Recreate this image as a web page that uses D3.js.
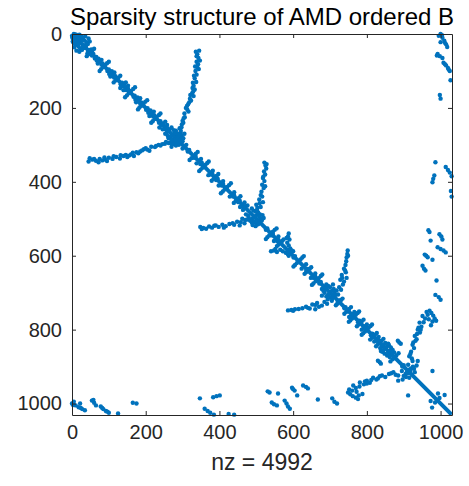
<!DOCTYPE html>
<html>
<head>
<meta charset="utf-8">
<script src="https://cdn.jsdelivr.net/npm/d3@7"></script>
<style>
  body { margin: 0; background: #fff; }
  text { font-family: "Liberation Sans", Arial, Helvetica, sans-serif; }
</style>
</head>
<body>
<div id="chart"></div>
<script>
// matrix size and nonzero count (B is symmetric, so only the lower triangle is listed)
var n = 1031;
var nz = 4992;
var tickValues = [0, 200, 400, 600, 800, 1000];
var diagonal = [[1, 1], [1030, 1030]];

// [row, col] below the diagonal
var cornerBlob = [[5,0],[10,1],[14,4],[8,6],[20,2],[25,5],[18,10],[30,10],[34,18],[40,22],[45,12],[22,15],[48,20],[12,3],[28,16],[36,6]];
var nearDiag = [[6,2],[17,13],[33,30],[47,44],[58,54],[83,80],[118,114],[152,148],[188,185],[223,220],[258,254],
  [318,314],[352,348],[380,377],[410,406],[440,437],[470,466],[530,526],[560,557],[605,601],[660,656],[690,686],
  [742,739],[762,758],[795,791],[830,826],[862,858],[900,896],[66,62],[100,96],[136,132],[170,167],[205,201],
  [240,236],[335,331],[395,391],[455,451],[545,541],[590,586],[640,636],[675,671],[725,721],[780,776],[815,811],[845,841]];
var fishbone1 = [[19,11],[24,6],[38,32],[43,27],[55,45],[60,40],[72,67],[90,84],[95,79],[100,75],[108,101],
  [126,118],[131,113],[141,136],[146,131],[160,154],[166,149],[171,144],[178,172],[194,188],[199,183],[204,179],
  [213,207],[230,224],[236,219],[240,215],[248,242],[253,237],[265,258],[270,253],
  [52,42],[80,70],[115,104],[152,140],[185,174],[222,210],[258,246]];
var blob280 = [[285,275],[290,272],[295,268],[292,280],[298,276],[305,270],[286,270],[282,262],[300,290],[310,300],[288,282],[278,268],[296,285],[302,282],[276,260]];
var arm280 = [[345,45],[340,55],[343,65],[338,75],[340,90],[335,100],[338,110],[333,120],[337,130],[330,140],
  [333,150],[326,160],[330,168],[320,175],[318,185],[312,195],[313,205],[305,215],[306,225],[300,235],
  [298,245],[292,255],[295,262],[287,270],[336,48],[342,82],[331,113],[327,146],[323,180],[316,210],[302,240],
  [338,60],[344,95],[328,132],[321,165],[309,200],[303,228],[347,72],[334,88],[329,155],[315,190],[297,252]];
var fishbone2 = [[336,324],[341,319],[362,354],[367,349],[371,345],[392,384],[397,379],[421,414],[426,409],
  [431,404],[452,444],[457,439],[476,464],[545,535],[550,530],[555,526],[570,560],[574,556],
  [620,610],[625,605],[629,601],[645,635],[649,631],[669,661],[675,655],[679,651],[730,720],[734,716],
  [350,338],[382,370],[410,398],[440,428],[468,456],[560,548],[600,588],[635,623],[660,648],[690,678]];
var blob495 = [[500,490],[505,485],[510,488],[498,480],[512,500],[508,495],[515,505],[520,498],[492,478],[503,470],[488,472],[517,490]];
var arm495 = [[522,348],[525,356],[527,364],[521,372],[524,380],[518,390],[522,398],[516,408],[520,417],
  [514,427],[512,436],[508,448],[518,455],[500,462],[512,468],[502,476],[505,483],[528,352],[519,386],[524,412],[516,440],[509,458]];
var arm590 = [[588,540],[586,548],[590,556],[584,565],[588,572],[592,580],[596,586],[582,552]];
var blob700 = [[705,695],[710,690],[712,700],[718,694],[700,685],[722,705],[695,682],[715,706],[708,678]];
var arm700 = [[748,586],[747,595],[745,605],[744,615],[742,625],[738,635],[743,645],[732,652],[745,660],
  [728,665],[738,670],[735,678],[725,685],[730,692],[749,600],[741,640],[733,660]];
var fishbone3 = [[752,744],[757,739],[770,760],[775,755],[779,751],[786,778],[791,773],[805,795],[810,790],
  [814,786],[822,814],[827,809],[840,830],[845,825],[880,870],[886,864],[766,752],[800,786],[832,820],[874,862]];
var blob850 = [[855,845],[860,842],[865,848],[858,838],[870,855],[884,830],[888,835],[892,838],[850,836],[866,858]];
var blob912 = [[916,908],[920,905],[925,900],[918,912],[930,915],[924,885],[938,885],[935,897],[912,895],[928,906]];
var arm912 = [[970,749],[975,755],[965,760],[951,763],[984,770],[978,778],[943,781],[974,788],[948,792],
  [938,800],[944,808],[930,817],[935,826],[924,841],[928,850],[920,860],[915,872],[958,770],[940,795],[932,830],
  [962,752],[980,762],[954,780],[968,772],[946,800],[936,812],[926,835],[918,866],[922,878],[988,776]];
var farRows = [[1000,0],[995,5],[1005,10],[1010,18],[1000,22],[1015,28],[1018,35],[992,54],[998,60],
  [1005,65],[1008,78],[1015,85],[1020,92],[1025,100],[1027,125],[998,165],[1000,175],[1004,3],[1012,24],[990,58],
  [986,347],[983,383],[980,392],[978,401],[1014,360],[1020,368],[1025,375],[1030,385],[1028,425],[1030,440],
  [967,531],[973,559],[997,542],[1005,556],[992,577],[1000,582],[1014,591],[957,597],[965,604],[978,611],
  [951,627],[955,635],[959,640],[989,667],[986,706],[995,712],[1000,719],[978,912],[1011,977],[997,985],[993,973],
  [970,536],[1002,548],[1008,586],[961,600],[1012,82],[1022,96]];

var lower = [].concat(cornerBlob, nearDiag, fishbone1, blob280, arm280, fishbone2, blob495, arm495, arm590,
  blob700, arm700, fishbone3, blob850, blob912, arm912, farRows);
var points = [];
lower.forEach(function(d) {
  points.push({row: d[0], col: d[1]});
  points.push({row: d[1], col: d[0]});
});

var width = 469, height = 486;
var svg = d3.select("#chart").append("svg")
    .attr("width", width)
    .attr("height", height);

var x = d3.scaleLinear().domain([0, n]).range([72, 452]);
var y = d3.scaleLinear().domain([0, n]).range([34, 415]);
var blue = "#0072BD";

svg.append("line")
    .attr("x1", x(diagonal[0][1])).attr("y1", y(diagonal[0][0]))
    .attr("x2", x(diagonal[1][1])).attr("y2", y(diagonal[1][0]))
    .attr("stroke", blue)
    .attr("stroke-width", 4);

svg.selectAll("circle.nz")
    .data(points)
    .enter()
    .append("circle")
    .attr("class", "nz")
    .attr("cx", function(d) { return x(d.col); })
    .attr("cy", function(d) { return y(d.row); })
    .attr("r", 2.2)
    .style("fill", blue);

// axes, ticks inside on all four sides like matlab
var axisColor = "#262626";
var noLabel = function() { return ""; };
var axB = d3.axisBottom(x).tickValues(tickValues).tickSizeInner(-4).tickSizeOuter(0).tickPadding(10).tickFormat(d3.format("d"));
var axL = d3.axisLeft(y).tickValues(tickValues).tickSizeInner(-4).tickSizeOuter(0).tickPadding(10).tickFormat(d3.format("d"));
var axT = d3.axisTop(x).tickValues(tickValues).tickSizeInner(-4).tickSizeOuter(0).tickFormat(noLabel);
var axR = d3.axisRight(y).tickValues(tickValues).tickSizeInner(-4).tickSizeOuter(0).tickFormat(noLabel);

svg.append("g").attr("transform", "translate(0," + y(n) + ")").call(axB);
svg.append("g").attr("transform", "translate(" + x(0) + ",0)").call(axL);
svg.append("g").attr("transform", "translate(0," + y(0) + ")").call(axT);
svg.append("g").attr("transform", "translate(" + x(n) + ",0)").call(axR);

svg.selectAll(".domain, .tick line").attr("stroke", axisColor);
svg.selectAll(".tick text").attr("fill", axisColor).style("font-size", "20px");

svg.append("text")
    .attr("x", (x(0) + x(n)) / 2)
    .attr("y", 25)
    .attr("text-anchor", "middle")
    .style("font-size", "24px")
    .attr("fill", "#000")
    .text("Sparsity structure of AMD ordered B");

svg.append("text")
    .attr("x", (x(0) + x(n)) / 2)
    .attr("y", 470)
    .attr("text-anchor", "middle")
    .style("font-size", "23px")
    .attr("fill", axisColor)
    .text("nz = " + nz);
</script>
</body>
</html>
